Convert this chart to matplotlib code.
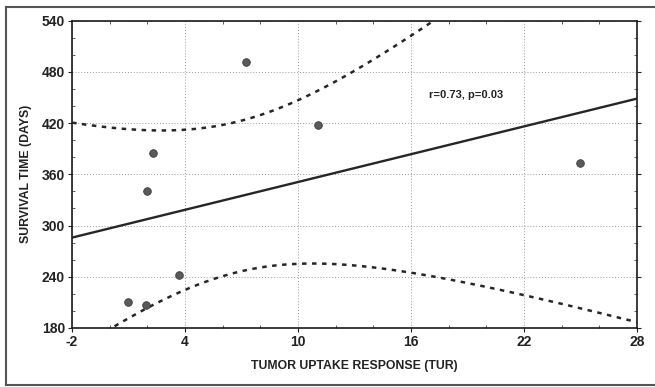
import numpy as np
import matplotlib
matplotlib.use("Agg")
import matplotlib.pyplot as plt
from matplotlib.ticker import MultipleLocator
from matplotlib.lines import Line2D

plt.rcParams['font.family'] = ['Liberation Sans', 'DejaVu Sans']
plt.rcParams['font.weight'] = 'bold'
plt.rcParams['axes.unicode_minus'] = False

# data points
tur = [7.24, 2.30, 1.98, 11.06, 25.0, 3.67, 0.96, 1.93]
survival = [491.6, 385, 341, 417.7, 373, 242, 210, 207.5]

x_ticks = [-2, 4, 10, 16, 22, 28]
y_ticks = [180, 240, 300, 360, 420, 480, 540]
note = "r=0.73, p=0.03"

# linear fit with 95% confidence band for the mean
x = np.array(tur)
y = np.array(survival)
n = len(x)
slope, intercept = np.polyfit(x, y, 1)
resid = y - (slope * x + intercept)
s = np.sqrt(np.sum(resid ** 2) / (n - 2))
sxx = np.sum((x - x.mean()) ** 2)
t_crit = 2.447  # t(0.975, df=6)
xs = np.linspace(-2, 28, 300)
fit = slope * xs + intercept
half = t_crit * s * np.sqrt(1 / n + (xs - x.mean()) ** 2 / sxx)

fig = plt.figure(figsize=(6.55, 3.87), dpi=100)
ax = fig.add_axes([0.110, 0.1525, 0.8625, 0.794])

ax.plot(xs, fit, color='#262626', lw=1.7, zorder=3)
ax.plot(xs, fit + half, color='#262626', lw=1.8, ls=(0, (1.8, 2.2)), zorder=3)
ax.plot(xs, fit - half, color='#262626', lw=1.8, ls=(0, (1.8, 2.2)), zorder=3)
ax.scatter(tur, survival, s=30, color='#5a5a5a', edgecolor='#3a3a3a',
           linewidth=0.6, zorder=4)

ax.text(16.96, 453, note, fontsize=8, fontweight='bold', color='#222222',
        va='center', ha='left')

ax.set_xlim(-2, 28)
ax.set_ylim(180, 540)
ax.set_xticks(x_ticks)
ax.set_yticks(y_ticks)
ax.xaxis.set_minor_locator(MultipleLocator(2))
ax.yaxis.set_minor_locator(MultipleLocator(20))
ax.tick_params(which='major', direction='out', length=3, width=0.8,
               labelsize=10, colors='#222222', pad=2)
ax.tick_params(which='minor', direction='in', length=2.5, width=0.6,
               top=True, right=True, colors='#444444')
ax.tick_params(axis='y', which='major', left=True, right=True)
for lab in ax.get_xticklabels() + ax.get_yticklabels():
    lab.set_fontweight('bold')

ax.grid(True, which='major', ls=(0, (1, 2)), color='#999999', lw=0.7)
for sp in ax.spines.values():
    sp.set_linewidth(1.2)
    sp.set_color('#1a1a1a')

ax.set_xlabel('TUMOR UPTAKE RESPONSE (TUR)', fontsize=8.8, fontweight='bold',
              color='#222222', labelpad=8)
ax.set_ylabel('SURVIVAL TIME (DAYS)', fontsize=8.8, fontweight='bold',
              color='#222222', labelpad=7)

# outer frame of the scanned figure
frame_kw = dict(transform=fig.transFigure, color='#555555', lw=1.5)
fig.add_artist(Line2D([6 / 655, 1.0], [1 - 7 / 387, 1 - 7 / 387], **frame_kw))
fig.add_artist(Line2D([6 / 655, 6 / 655], [1 - 7 / 387, 2 / 387], **frame_kw))
fig.add_artist(Line2D([6 / 655, 1.0], [2 / 387, 2 / 387], **frame_kw))

fig.savefig('out.png', dpi=100)
